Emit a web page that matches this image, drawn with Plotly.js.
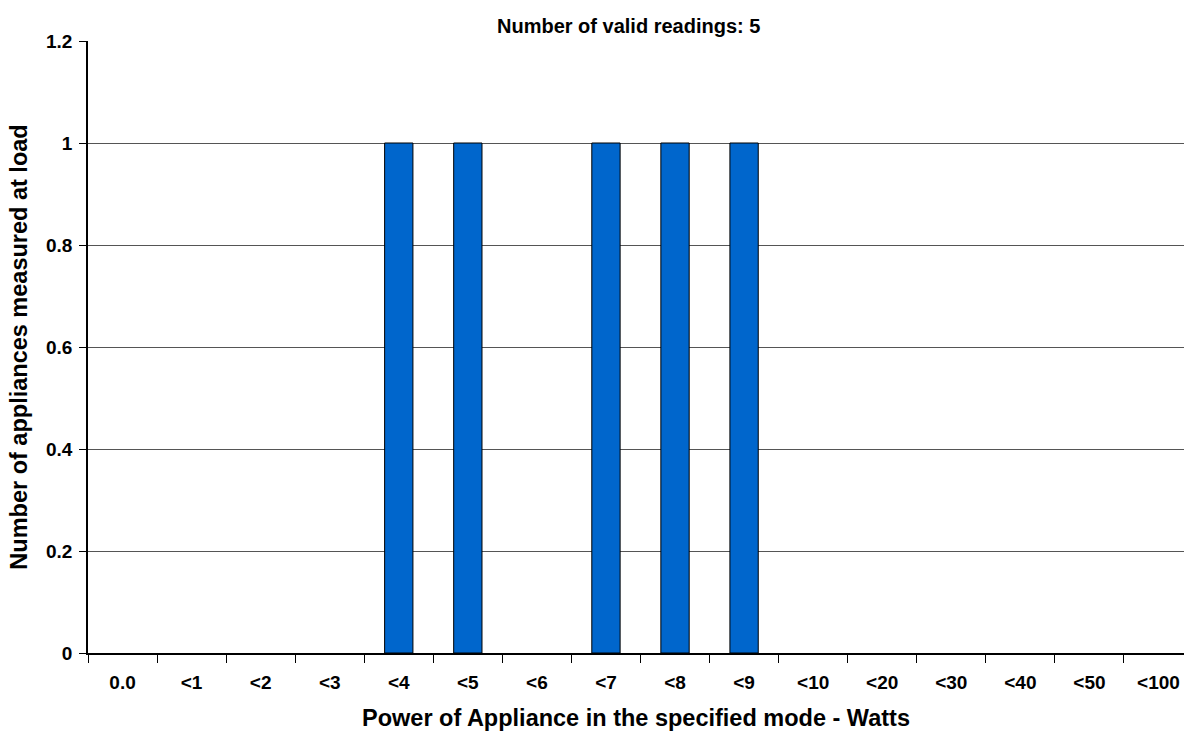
<!DOCTYPE html>
<html>
<head>
<meta charset="utf-8">
<script src="https://cdn.plot.ly/plotly-3.0.1.min.js"></script>
<style>html,body{margin:0;padding:0;overflow:hidden;background:#fff}#chart{width:1184px;height:731px}</style>
</head>
<body>
<div id="chart"></div>
<script>
const categories = ["0.0","<1","<2","<3","<4","<5","<6","<7","<8","<9","<10","<20","<30","<40","<50","<100"];
const counts = [0,0,0,0,1,1,0,1,1,1,0,0,0,0,0,0];
const chartTitle = "Number of valid readings: 5";
const xTitle = "Power of Appliance in the specified mode - Watts";
const yTitle = "Number of appliances measured at load";

const font = {family: '"Liberation Sans", Arial, sans-serif', color: '#000', weight: 'bold'};

Plotly.newPlot('chart', [{
  type: 'bar',
  x: categories,
  y: counts,
  marker: {color: '#0066CC', line: {color: '#000', width: counts.map(v => v ? 1 : 0)}},
  hoverinfo: 'x+y'
}], {
  width: 1184, height: 731,
  margin: {l: 88, r: 0, t: 41, b: 78},
  paper_bgcolor: '#fff', plot_bgcolor: '#fff',
  bargap: 0.59,
  showlegend: false,
  title: {text: chartTitle, font: Object.assign({}, font, {size: 20}), x: 0.531, xanchor: 'center', y: 1 - 26/731, yanchor: 'middle'},
  xaxis: {
    type: 'category',
    range: [-0.5, 15.37],
    tickson: 'boundaries',
    ticks: 'outside', ticklen: 8, tickcolor: '#000', tickwidth: 1,
    ticklabelstandoff: 11,
    showline: true, linecolor: '#000', linewidth: 1.5,
    showgrid: false, zeroline: false,
    tickfont: Object.assign({}, font, {size: 19}),
    title: {text: xTitle, font: Object.assign({}, font, {size: 23.5}), standoff: 19}
  },
  yaxis: {
    range: [0, 1.2], dtick: 0.2, tick0: 0,
    ticks: 'outside', ticklen: 7, tickcolor: '#000', tickwidth: 1,
    ticklabelstandoff: 3,
    showline: true, linecolor: '#000', linewidth: 1.5,
    showgrid: true, gridcolor: '#555', gridwidth: 1,
    zeroline: false,
    tickfont: Object.assign({}, font, {size: 19}),
    title: {text: yTitle, font: Object.assign({}, font, {size: 23.5}), standoff: 12}
  }
}, {displayModeBar: false});
</script>
</body>
</html>
